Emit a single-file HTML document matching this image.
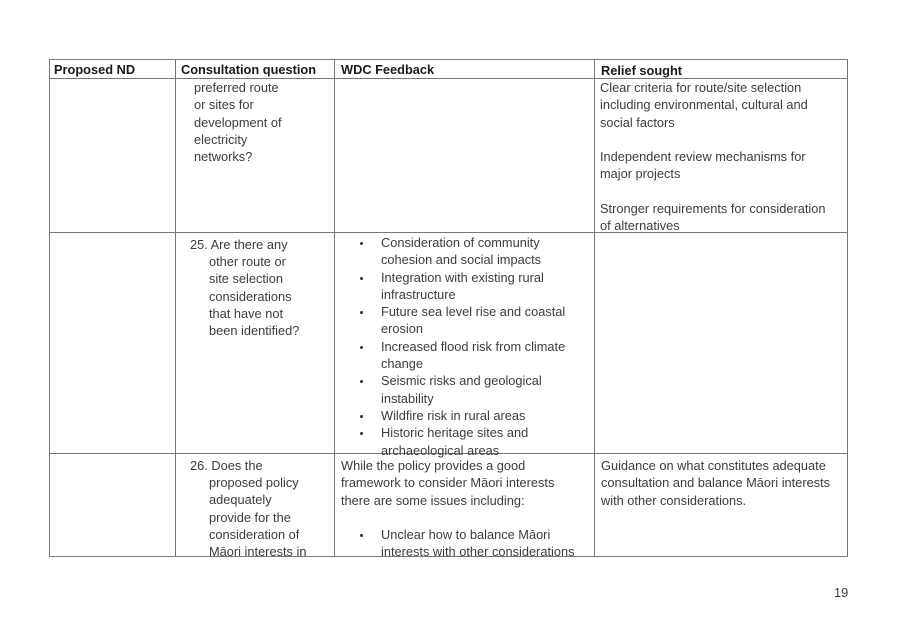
<!DOCTYPE html>
<html><head><meta charset="utf-8"><style>
body{margin:0;width:907px;height:626px;background:#fff;position:relative;font-family:"Liberation Sans",sans-serif;color:#3c3c3c;font-size:12.8px;overflow:hidden}
.h{position:absolute;background:#777}
.t{position:absolute;line-height:17.3px;white-space:nowrap}
.b{font-weight:bold;color:#1a1a1a;font-size:12.8px}
.bu{position:absolute;width:3px;height:3px;border-radius:50%;background:#333}
</style></head><body>
<div class="h" style="left:49px;top:59px;width:799px;height:1px"></div>
<div class="h" style="left:49px;top:78px;width:799px;height:1px"></div>
<div class="h" style="left:49px;top:232px;width:799px;height:1px"></div>
<div class="h" style="left:49px;top:453px;width:799px;height:1px"></div>
<div class="h" style="left:49px;top:556px;width:799px;height:1px"></div>
<div class="h" style="left:49px;top:59px;width:1px;height:498px"></div>
<div class="h" style="left:175px;top:59px;width:1px;height:498px"></div>
<div class="h" style="left:334px;top:59px;width:1px;height:498px"></div>
<div class="h" style="left:594px;top:59px;width:1px;height:498px"></div>
<div class="h" style="left:847px;top:59px;width:1px;height:498px"></div>

<div class="t b" style="left:54px;top:61px">Proposed ND</div>
<div class="t b" style="left:181px;top:61px">Consultation question</div>
<div class="t b" style="left:341px;top:61px">WDC Feedback</div>
<div class="t b" style="left:601px;top:62px">Relief sought</div>

<div class="t" style="left:194px;top:79px">preferred route<br>or sites for<br>development of<br>electricity<br>networks?</div>
<div class="t" style="left:600px;top:79px">Clear criteria for route/site selection<br>including environmental, cultural and<br>social factors<br>&nbsp;<br>Independent review mechanisms for<br>major projects<br>&nbsp;<br>Stronger requirements for consideration<br>of alternatives</div>

<div class="t" style="left:190px;top:236px">25. Are there any</div>
<div class="t" style="left:209px;top:253px">other route or<br>site selection<br>considerations<br>that have not<br>been identified?</div>
<div class="t" style="left:381px;top:234px">Consideration of community<br>cohesion and social impacts<br>Integration with existing rural<br>infrastructure<br>Future sea level rise and coastal<br>erosion<br>Increased flood risk from climate<br>change<br>Seismic risks and geological<br>instability<br>Wildfire risk in rural areas<br>Historic heritage sites and<br>archaeological areas</div>
<div class="bu" style="left:360px;top:242px"></div>
<div class="bu" style="left:360px;top:277px"></div>
<div class="bu" style="left:360px;top:311px"></div>
<div class="bu" style="left:360px;top:346px"></div>
<div class="bu" style="left:360px;top:380px"></div>
<div class="bu" style="left:360px;top:415px"></div>
<div class="bu" style="left:360px;top:432px"></div>

<div class="t" style="left:190px;top:457px">26. Does the</div>
<div class="t" style="left:209px;top:474px">proposed policy<br>adequately<br>provide for the<br>consideration of<br>Māori interests in</div>
<div class="t" style="left:341px;top:457px">While the policy provides a good<br>framework to consider Māori interests<br>there are some issues including:</div>
<div class="t" style="left:381px;top:526px">Unclear how to balance Māori<br>interests with other considerations</div>
<div class="bu" style="left:360px;top:534px"></div>
<div class="t" style="left:601px;top:457px">Guidance on what constitutes adequate<br>consultation and balance Māori interests<br>with other considerations.</div>

<div class="t" style="left:834px;top:584px">19</div>
</body></html>
